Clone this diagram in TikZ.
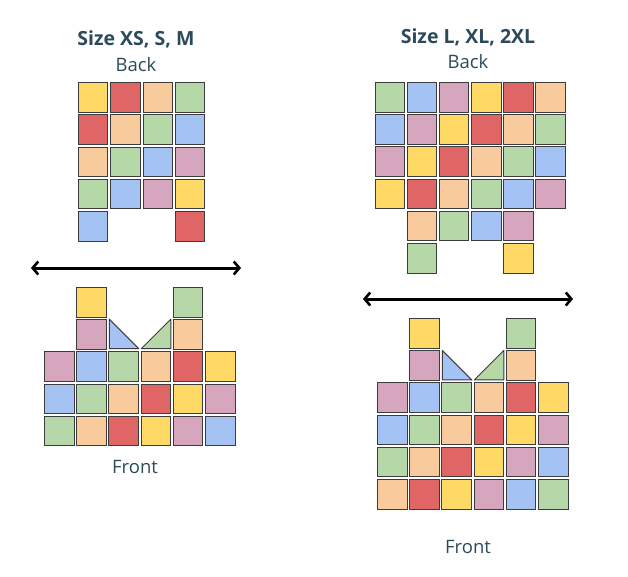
\documentclass[tikz,border=0pt]{standalone}
\usepackage{fontspec}
\setmainfont{Open Sans}
\usetikzlibrary{arrows.meta}
\definecolor{cY}{HTML}{FFD966}
\definecolor{cR}{HTML}{E06666}
\definecolor{cO}{HTML}{F9CB9C}
\definecolor{cG}{HTML}{B6D7A8}
\definecolor{cB}{HTML}{A4C2F4}
\definecolor{cP}{HTML}{D5A6BD}
\definecolor{edge}{HTML}{3C3C3C}
\definecolor{txt}{HTML}{2C4A5A}
\tikzset{
  sq/.style={draw=edge, line width=1pt, minimum size=29.5pt, inner sep=0pt, outer sep=0pt},
  tri/.style={draw=edge, line width=1pt, line join=round},
  ttl/.style={text=txt, font=\fontsize{19.5}{22}\selectfont\bfseries, inner sep=0pt},
  lbl/.style={text=txt, font=\fontsize{18.5}{22}\selectfont, inner sep=0pt},
  dbl/.style={line width=3pt, {Straight Barb[length=5.5pt,width=13pt,line width=2.6pt]}-{Straight Barb[length=5.5pt,width=13pt,line width=2.6pt]}}
}
\begin{document}
\begin{tikzpicture}[x=1pt,y=-1pt]
\useasboundingbox (0,0) rectangle (628,576);
% texts
\node[ttl] (t1) at (136,39) {Size XS, S, M};
\node[lbl] (b1) at (136,65) {Back};
\node[lbl] (f1) at (135,467) {Front};
\node[ttl] (t2) at (468,37) {Size L, XL, 2XL};
\node[lbl] (b2) at (468,62) {Back};
\node[lbl] (f2) at (468,547) {Front};
% left back
\foreach \c/\r/\k in {0/0/cY,1/0/cR,2/0/cO,3/0/cG,
  0/1/cR,1/1/cO,2/1/cG,3/1/cB,
  0/2/cO,1/2/cG,2/2/cB,3/2/cP,
  0/3/cG,1/3/cB,2/3/cP,3/3/cY,
  0/4/cB,3/4/cR}
  \node[sq,fill=\k] (lb\r\c) at ({93.2+32.3*\c},{97.5+32.2*\r}) {};
% left front
\foreach \c/\r/\k in {1/0/cY,4/0/cG,
  1/1/cP,4/1/cO,
  0/2/cP,1/2/cB,2/2/cG,3/2/cO,4/2/cR,5/2/cY,
  0/3/cB,1/3/cG,2/3/cO,3/3/cR,4/3/cY,5/3/cP,
  0/4/cG,1/4/cO,2/4/cR,3/4/cY,4/4/cP,5/4/cB}
  \node[sq,fill=\k] (lf\r\c) at ({59.3+32.2*\c},{302.3+32.2*\r}) {};
\draw[tri,fill=cB] (109.3,319.2) -- (109.3,348.7) -- (138.8,348.7) -- cycle;
\draw[tri,fill=cG] (141.3,348.7) -- (170.8,348.7) -- (170.8,319.2) -- cycle;
% right back
\foreach \c/\r/\k in {0/0/cG,1/0/cB,2/0/cP,3/0/cY,4/0/cR,5/0/cO,
  0/1/cB,1/1/cP,2/1/cY,3/1/cR,4/1/cO,5/1/cG,
  0/2/cP,1/2/cY,2/2/cR,3/2/cO,4/2/cG,5/2/cB,
  0/3/cY,1/3/cR,2/3/cO,3/3/cG,4/3/cB,5/3/cP,
  1/4/cO,2/4/cG,3/4/cB,4/4/cP,
  1/5/cG,4/5/cY}
  \node[sq,fill=\k] (rb\r\c) at ({390+32.1*\c},{97.3+32.2*\r}) {};
% right front
\foreach \c/\r/\k in {1/0/cY,4/0/cG,
  1/1/cP,4/1/cO,
  0/2/cP,1/2/cB,2/2/cG,3/2/cO,4/2/cR,5/2/cY,
  0/3/cB,1/3/cG,2/3/cO,3/3/cR,4/3/cY,5/3/cP,
  0/4/cG,1/4/cO,2/4/cR,3/4/cY,4/4/cP,5/4/cB,
  0/5/cO,1/5/cR,2/5/cY,3/5/cP,4/5/cB,5/5/cG}
  \node[sq,fill=\k] (rf\r\c) at ({392.3+32.2*\c},{333.3+32.2*\r}) {};
\draw[tri,fill=cB] (442.3,350.4) -- (442.3,379.9) -- (471.8,379.9) -- cycle;
\draw[tri,fill=cG] (474.3,379.9) -- (503.8,379.9) -- (503.8,350.4) -- cycle;
% arrows
\coordinate (a1l) at (31,268);
\coordinate (a1r) at (241,268);
\draw[dbl] (a1l) -- (a1r);
\coordinate (a2l) at (363,299);
\coordinate (a2r) at (573,299);
\draw[dbl] (a2l) -- (a2r);
\end{tikzpicture}
\end{document}
